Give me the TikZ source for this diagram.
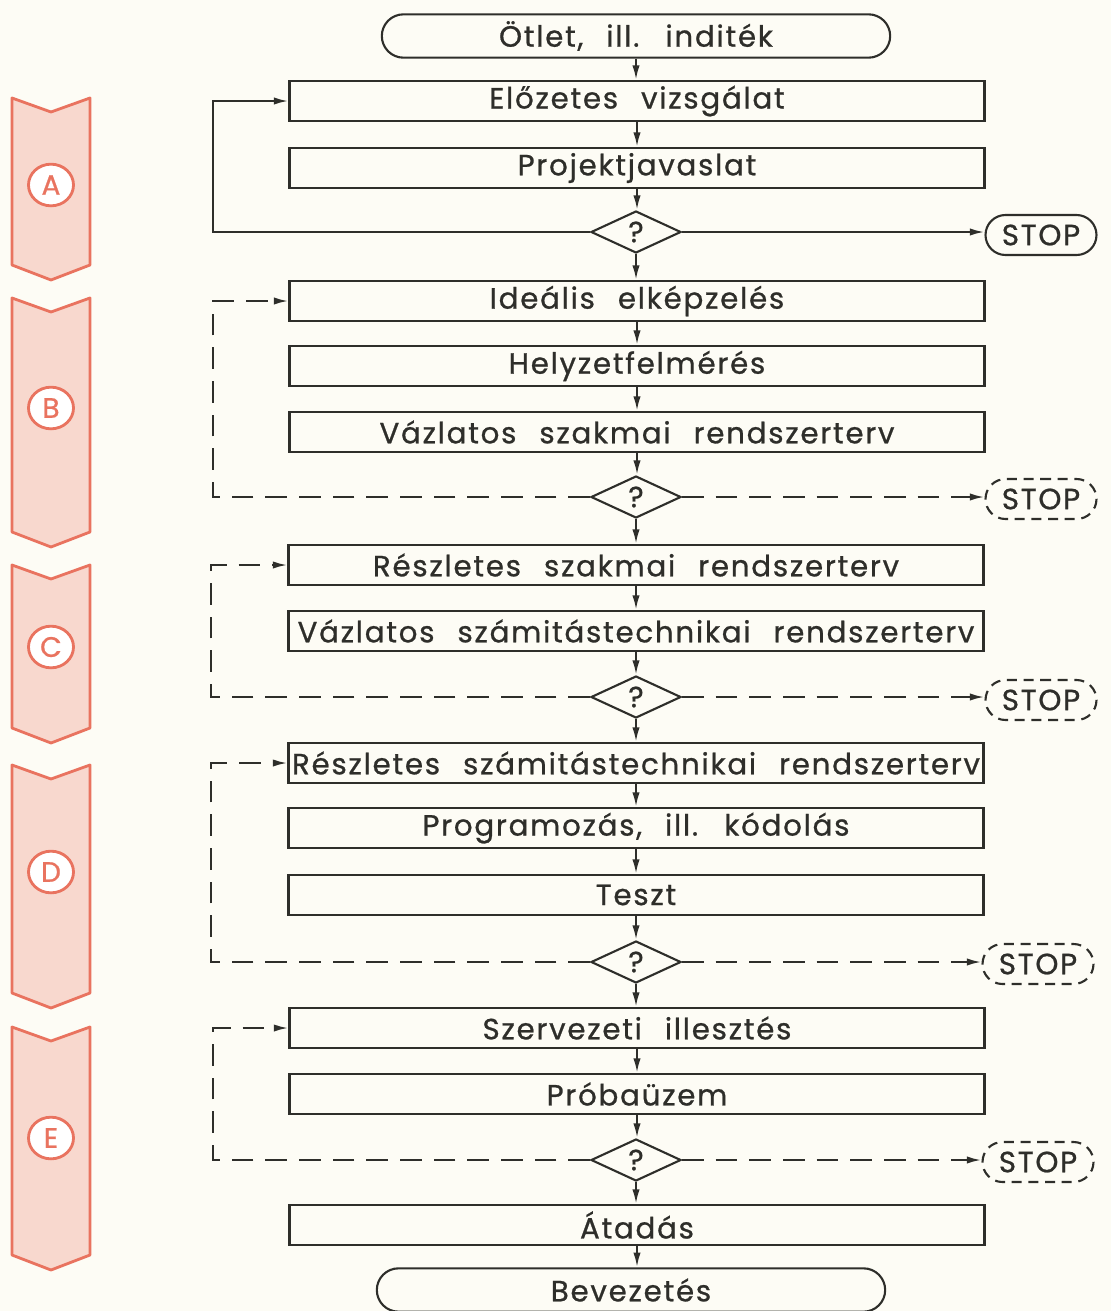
\documentclass[tikz,border=0pt]{standalone}
\usepackage{fontspec}
\setmainfont{Poppins}[WordSpace=2.4,LetterSpace=6,FakeBold=0.8]
\usetikzlibrary{arrows.meta,shapes.geometric,shapes.misc,positioning}

\definecolor{phaseline}{HTML}{E9735F}
\definecolor{phasefill}{HTML}{F8D8CE}
\definecolor{paper}{HTML}{FDFCF5}
\definecolor{ink}{HTML}{2E2E2A}

\tikzset{
  stepbox/.style={draw=ink,line width=1.8pt,minimum width=20.85cm,minimum height=1.2cm,inner sep=0pt},
  term/.style={draw=ink,line width=1.8pt,rounded rectangle,minimum width=15.25cm,minimum height=1.3cm,inner sep=0pt},
  stopterm/.style={draw=ink,line width=1.8pt,rounded rectangle,minimum width=3.4cm,minimum height=1.2cm,inner sep=1pt},
  decision/.style={draw=ink,line width=1.8pt,diamond,aspect=2.1,minimum width=2.7cm,minimum height=1.26cm,inner sep=0pt},
  flow/.style={draw=ink,line width=1.8pt,-{Latex[length=4.4mm,width=2.2mm]}},
  loopback/.style={flow,dash pattern=on 6.5mm off 3.6mm},
  stopdash/.style={dash pattern=on 3mm off 2mm},
  phase/.style={draw=phaseline,fill=phasefill,line width=2.4pt,line join=round},
  phaselabel/.style={draw=phaseline,fill=white,line width=2.4pt,ellipse,minimum width=1.35cm,minimum height=1.25cm,
    text=phaseline,inner sep=0pt,font=\fontsize{24}{24}\selectfont}
}

\begin{document}
\begin{tikzpicture}[x=0.03cm,y=-0.03cm,font=\fontsize{25}{29}\selectfont,text=ink]
  \fill[paper] (0,0) rectangle (1111,1311);
  \useasboundingbox (0,0) rectangle (1111,1311);

  % --- phase markers on the left ---
  \foreach \ya/\yb/\ym/\lbl in {98/280/185/A, 298/547/408/B, 565/743/647/C, 765/1008/872/D, 1027/1270/1138/E}{
    \draw[phase] (12,\ya) -- (51,\ya+14) -- (90,\ya) -- (90,\yb-15) -- (51,\yb) -- (12,\yb-15) -- cycle;
    \node[phaselabel] (ph\lbl) at (51,\ym) {\lbl};
  }

  % --- main flow ---
  \node[term] (idea) at (636,36) {Ötlet, ill. inditék};
  \node[stepbox] (pre) at (637,101) {Előzetes vizsgálat};
  \node[stepbox] (prop) at (637,168) {Projektjavaslat};
  \node[decision] (qA) at (636,232) {?};
  \node[stopterm] (stopA) at (1041,235) {STOP};

  \node[stepbox] (ideal) at (637,301) {Ideális elképzelés};
  \node[stepbox] (survey) at (637,366) {Helyzetfelmérés};
  \node[stepbox] (draftB) at (637,432) {Vázlatos szakmai rendszerterv};
  \node[decision] (qB) at (636,497) {?};
  \node[stopterm,stopdash] (stopB) at (1041,499) {STOP};

  \node[stepbox] (detC) at (636,565) {Részletes szakmai rendszerterv};
  \node[stepbox] (draftC) at (636,631) {Vázlatos számitástechnikai rendszerterv};
  \node[decision] (qC) at (636,697) {?};
  \node[stopterm,stopdash] (stopC) at (1041,700) {STOP};

  \node[stepbox] (detD) at (636,763) {Részletes számitástechnikai rendszerterv};
  \node[stepbox] (code) at (636,828) {Programozás, ill. kódolás};
  \node[stepbox] (test) at (636,895) {Teszt};
  \node[decision] (qD) at (636,962) {?};
  \node[stopterm,stopdash] (stopD) at (1038,964) {STOP};

  \node[stepbox] (org) at (637,1028) {Szervezeti illesztés};
  \node[stepbox] (trial) at (637,1094) {Próbaüzem};
  \node[decision] (qE) at (636,1160) {?};
  \node[stopterm,stopdash] (stopE) at (1038,1162) {STOP};

  \node[stepbox] (hand) at (637,1225) {Átadás};
  \node[term] (intro) at (631,1290) {Bevezetés};

  % vertical arrows
  \foreach \a/\b in {idea/pre,pre/prop,prop/qA,qA/ideal,ideal/survey,survey/draftB,draftB/qB,qB/detC,
                     detC/draftC,draftC/qC,qC/detD,detD/code,code/test,test/qD,qD/org,org/trial,
                     trial/qE,qE/hand,hand/intro}
    \draw[flow] (\a.south) -- (\a.south |- \b.north);

  % exits to STOP
  \draw[flow] (qA.east) -- (qA.east -| stopA.west);
  \foreach \q in {B,C,D,E}
    \draw[loopback] (q\q.east) -- (q\q.east -| stop\q.west);

  % feedback loops
  \draw[flow] (qA.west) -| (213,0 |- pre.west) -- (pre.west);
  \draw[loopback] (qB.west) -| (213,0 |- ideal.west) -- (ideal.west);
  \draw[loopback] (qC.west) -| (211,0 |- detC.west) -- (detC.west);
  \draw[loopback] (qD.west) -| (211,0 |- detD.west) -- (detD.west);
  \draw[loopback] (qE.west) -| (213,0 |- org.west) -- (org.west);
\end{tikzpicture}
\end{document}
